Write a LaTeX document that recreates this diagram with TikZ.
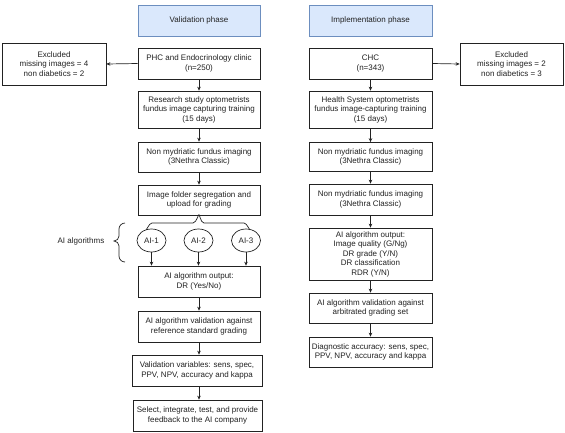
\documentclass[tikz,border=0pt]{standalone}
\usepackage{fontspec}
\setmainfont{Liberation Sans}
\usetikzlibrary{arrows.meta,shapes.geometric}
\definecolor{phasefill}{HTML}{DAE8FC}
\definecolor{phaseline}{HTML}{6C8EBF}
\definecolor{ink}{HTML}{222222}
\begin{document}
\begin{tikzpicture}[x=1pt,y=-1pt,
  every node/.style={font=\fontsize{8}{9.5}\selectfont, text=ink, align=center, inner sep=0pt},
  box/.style={draw=ink, line width=0.7pt, fill=white, rectangle, minimum width=#1},
  box/.default=122,
  phase/.style={draw=phaseline, line width=0.7pt, fill=phasefill, minimum width=122, minimum height=31},
  algo/.style={draw=ink, line width=0.7pt, ellipse, minimum width=29, minimum height=23},
  arr/.style={draw=ink, line width=0.7pt, -{Stealth[length=4pt,width=3.5pt]}},
  lin/.style={draw=ink, line width=0.7pt}
]
\useasboundingbox (0,0) rectangle (565,432);
% left column
\node[phase] (vphase) at (199,20.5) {Validation phase};
\node[box, minimum height=31] (phc) at (199,63.5) {PHC and Endocrinology clinic\\(n=250)};
\node[box=104, minimum height=42] (exl) at (54,64) {Excluded\\missing images = 4\\non diabetics = 2};
\node[box, minimum height=37] (res) at (199,109.5) {Research study optometrists\\fundus image capturing training\\(15 days)};
\node[box, minimum height=30] (nm) at (199,157) {Non mydriatic fundus imaging\\(3Nethra Classic)};
\node[box, minimum height=30] (fold) at (199,200) {Image folder segregation and\\upload for grading};
\node[algo] (a1) at (151.5,240.5) {AI-1};
\node[algo] (a2) at (198.5,240.5) {AI-2};
\node[algo] (a3) at (246,240.5) {AI-3};
\node (alg) at (81,241) {AI algorithms};
\node[box, minimum height=31] (aio) at (199,281.5) {AI algorithm output:\\DR (Yes/No)};
\node[box, minimum height=31] (aiv) at (199,326.5) {AI algorithm validation against\\reference standard grading};
\node[box=130, minimum height=31] (vv) at (197,370.5) {Validation variables: sens, spec,\\PPV, NPV, accuracy and kappa};
\node[box=129, minimum height=31] (sel) at (197.5,415.5) {Select, integrate, test, and provide\\feedback to the AI company};
% right column
\node[phase, minimum width=123] (iphase) at (370.5,20.5) {Implementation phase};
\node[box=123, minimum height=31] (chc) at (370.5,63.5) {CHC\\(n=343)};
\node[box=103, minimum height=42] (exr) at (511.5,64) {Excluded\\missing images = 2\\non diabetics = 3};
\node[box=123, minimum height=37] (hs) at (370.5,109.5) {Health System optometrists\\fundus image-capturing training\\(15 days)};
\node[box=123, minimum height=29] (nm1) at (370.5,157) {Non mydriatic fundus imaging\\(3Nethra Classic)};
\node[box=123, minimum height=31] (nm2) at (370.5,199.5) {Non mydriatic fundus imaging\\(3Nethra Classic)};
\node[box=123, minimum height=52] (aio2) at (370.5,254) {AI algorithm output:\\Image quality (G/Ng)\\DR grade (Y/N)\\DR classification\\RDR (Y/N)};
\node[box=123, minimum height=30] (aiv2) at (370.5,308) {AI algorithm validation against\\arbitrated grading set};
\node[box=123, minimum height=30] (diag) at (370.5,352) {Diagnostic accuracy: sens, spec,\\PPV, NPV, accuracy and kappa};
% left arrows
\draw[arr] (phc.west) -- (exl.east);
\draw[arr] (phc.south) -- (res.north);
\draw[arr] (res.south) -- (nm.north);
\draw[arr] (nm.south) -- (fold.north);
\draw[lin] (146,229) to[out=-90,in=180] (152,223) -- (193,223) to[out=0,in=90] (fold.south);
\draw[lin] (fold.south) to[out=90,in=180] (204,223) -- (244,223) to[out=0,in=-90] (250,229);
\draw[arr] (a1.south) -- (a1.south |- aio.north);
\draw[arr] (a2.south) -- (a2.south |- aio.north);
\draw[arr] (a3.south) -- (a3.south |- aio.north);
\draw[lin] (125,223) to[out=180,in=90] (119,229) -- (119,236) to[out=-90,in=0] (114,241) to[out=0,in=90] (119,246) -- (119,256) to[out=-90,in=180] (125,262);
\draw[arr] (aio.south) -- (aiv.north);
\draw[arr] (aiv.south) -- (aiv.south |- vv.north);
\draw[arr] (vv.south -| aiv.south) -- (sel.north -| aiv.south);
% right arrows
\draw[arr] (chc.east) -- (exr.west);
\draw[arr] (chc.south) -- (hs.north);
\draw[arr] (hs.south) -- (nm1.north);
\draw[arr] (nm1.south) -- (nm2.north);
\draw[arr] (nm2.south) -- (aio2.north);
\draw[arr] (aio2.south) -- (aiv2.north);
\draw[arr] (aiv2.south) -- (diag.north);
\end{tikzpicture}
\end{document}
